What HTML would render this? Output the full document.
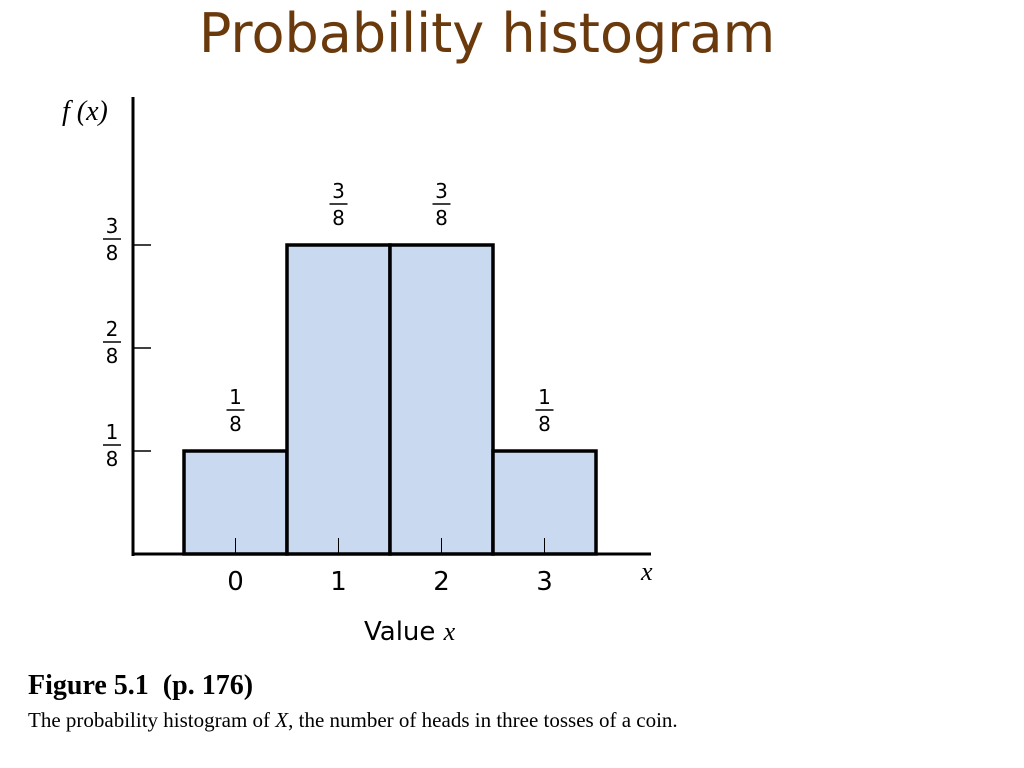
<!DOCTYPE html>
<html><head><meta charset="utf-8"><style>
body{margin:0;width:1024px;height:768px;background:#fff;overflow:hidden;font-family:"Liberation Sans",sans-serif}
.title{position:absolute;left:0;width:974px;top:2px;text-align:center;font-family:"Comic Sans MS","DejaVu Sans",sans-serif;font-size:54px;color:#6b3a0c}
.cap1{position:absolute;left:28px;top:670px;font-family:"Liberation Serif",serif;font-weight:bold;font-size:28px}
.cap2{position:absolute;left:28px;top:708px;font-family:"Liberation Serif",serif;font-size:21px}
</style></head><body>
<div class="title">Probability histogram</div>
<svg width="1024" height="768" style="position:absolute;left:0;top:0" id="chart"></svg>
<div class="cap1">Figure 5.1&nbsp; (p. 176)</div>
<div class="cap2">The probability histogram of <i>X</i>, the number of heads in three tosses of a coin.</div>
<script>
const categories=[0,1,2,3];
const values=[1,3,3,1];
const yTicks=[1,2,3];
const NS="http://www.w3.org/2000/svg";
const svg=document.getElementById('chart');
const x0=184,bw=103,base=554,unit=103;
function xs(i){return x0+i*bw;}
function ys(v){return base-v*unit;}
function mk(t,a,p){const e=document.createElementNS(NS,t);for(const k in a)e.setAttribute(k,a[k]);(p||svg).appendChild(e);return e;}
function frac(cx,top,n,name){
  const g=mk('g',{});
  
  
  const a=mk('text',{x:cx,y:top+17,'text-anchor':'middle','font-size':'20','font-family':'DejaVu Sans, sans-serif'},g);a.textContent=n;
  mk('line',{x1:cx-9,x2:cx+9,y1:top+23,y2:top+23,stroke:'#000','stroke-width':1.5},g);
  const b=mk('text',{x:cx,y:top+44,'text-anchor':'middle','font-size':'20','font-family':'DejaVu Sans, sans-serif'},g);b.textContent='8';
}
values.forEach((v,i)=>{
  const r=mk('rect',{x:xs(i),y:ys(v),width:bw,height:base-ys(v),fill:'#c8d9f0',stroke:'#000','stroke-width':3.5});
  
  
  mk('line',{x1:xs(i)+bw/2,x2:xs(i)+bw/2,y1:base-16,y2:base,stroke:'#000','stroke-width':1});
  frac(xs(i)+bw/2,ys(v)-64,String(v),'bar-value-'+categories[i]);
  const t=mk('text',{x:xs(i)+bw/2,y:base+36,'text-anchor':'middle','font-size':'26','font-family':'DejaVu Sans, sans-serif'});
  t.textContent=categories[i];
  
  
});
yTicks.forEach(v=>{
  mk('line',{x1:133,x2:151,y1:ys(v),y2:ys(v),stroke:'#000','stroke-width':1.5});
  frac(112,ys(v)-29,String(v),'y-tick-label');
});
const ya=mk('line',{x1:133,x2:133,y1:97,y2:556,stroke:'#000','stroke-width':3});


const xa=mk('line',{x1:132,x2:651,y1:base,y2:base,stroke:'#000','stroke-width':3});


const yt=mk('text',{x:62,y:120,'font-size':'28','font-family':'Liberation Serif, serif','font-style':'italic'});
yt.textContent='f (x)';


const xl=mk('text',{x:641,y:580,'font-size':'26','font-family':'Liberation Serif, serif','font-style':'italic'});
xl.textContent='x';


const xt=mk('text',{x:364,y:640,'font-size':'26','font-family':'DejaVu Sans, sans-serif'});
xt.innerHTML='Value <tspan font-family="Liberation Serif, serif" font-style="italic">x</tspan>';


</script>
</body></html>
